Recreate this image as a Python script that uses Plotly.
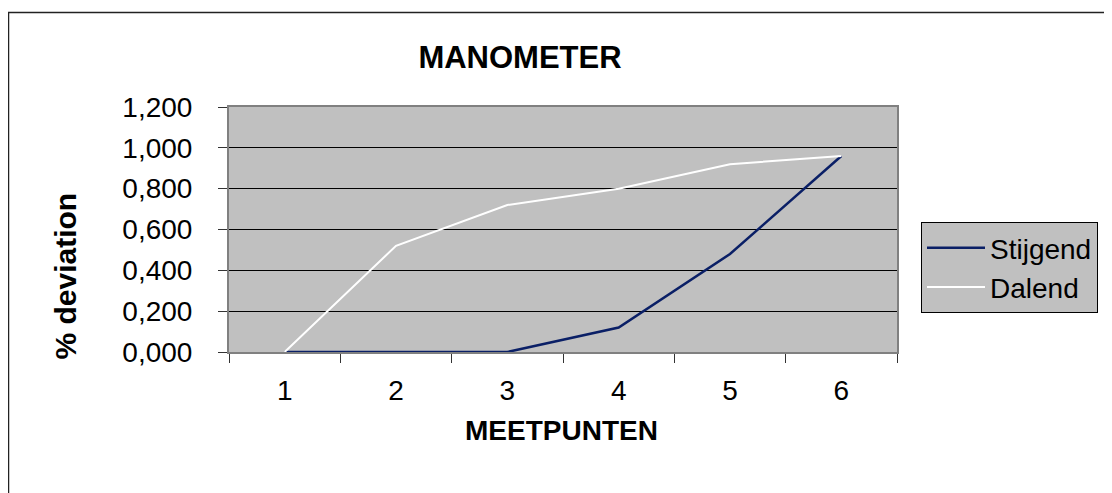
import plotly.graph_objects as go

categories = ["1", "2", "3", "4", "5", "6"]
stijgend = [0.0, 0.0, 0.0, 0.12, 0.48, 0.96]
dalend = [0.0, 0.52, 0.72, 0.80, 0.92, 0.96]
y_tickvals = [0.0, 0.2, 0.4, 0.6, 0.8, 1.0, 1.2]
y_ticktext = ["0,000", "0,200", "0,400", "0,600", "0,800", "1,000", "1,200"]

# the page body has an 8px margin; work in reference-pixel coordinates and shift
OFF = 8
W, H = 1112 - OFF, 493 - OFF
L, R, T, B = 229, 897, 107, 352
pw, ph = R - L, B - T


def px(x):
    return (x - L) / pw


def py(y):
    return (B - y) / ph


FONT = "Liberation Sans, Arial, sans-serif"

fig = go.Figure()
fig.add_trace(go.Scatter(x=categories, y=stijgend, mode="lines", name="Stijgend",
                         line=dict(color="#0a1f66", width=2.5)))
fig.add_trace(go.Scatter(x=categories, y=dalend, mode="lines", name="Dalend",
                         line=dict(color="#ffffff", width=2)))

fig.update_layout(
    width=W, height=H,
    margin=dict(l=L - OFF, r=1112 - R, t=T - OFF, b=493 - B, autoexpand=False),
    paper_bgcolor="white",
    plot_bgcolor="#c0c0c0",
    font=dict(family=FONT, color="black", size=28),
    title=dict(text="<b>MANOMETER</b>", font=dict(size=31, family=FONT, color="black"),
               x=(520 - OFF) / W, xref="container", xanchor="center",
               y=1 - (57 - OFF) / H, yref="container", yanchor="middle"),
    showlegend=True,
    legend=dict(x=px(921), y=py(222), xanchor="left", yanchor="top",
                bgcolor="#c0c0c0", bordercolor="black", borderwidth=1,
                font=dict(size=28, family=FONT, color="black"),
                itemwidth=58, tracegroupgap=0),
    xaxis=dict(type="category", range=[-0.5, 5.5], tickson="boundaries",
               ticks="outside", ticklen=9, tickcolor="#333333", tickwidth=1,
               showgrid=False, showline=True, linecolor="#808080", linewidth=2,
               mirror=True, ticklabelstandoff=12, tickfont=dict(size=28),
               fixedrange=True),
    yaxis=dict(range=[0, 1.2], tickvals=y_tickvals, ticktext=y_ticktext,
               ticks="outside", ticklen=9, tickcolor="#333333", tickwidth=1,
               showgrid=True, gridcolor="black", gridwidth=1, zeroline=False,
               showline=True, linecolor="#808080", linewidth=2, mirror=True,
               ticklabelstandoff=20, tickfont=dict(size=28), fixedrange=True),
    annotations=[
        dict(text="<b>MEETPUNTEN</b>", xref="paper", yref="paper",
             x=px(561.5), y=py(431), xanchor="center", yanchor="middle",
             showarrow=False, font=dict(size=28, family=FONT, color="black")),
        dict(text="<b>% deviation</b>", xref="paper", yref="paper",
             x=px(64.5), y=py(276), xanchor="center", yanchor="middle",
             textangle=-90, showarrow=False,
             font=dict(size=30, family=FONT, color="black")),
    ],
    shapes=[
        dict(type="rect", xref="paper", yref="paper",
             x0=px(8.5), x1=px(1300), y0=py(700), y1=py(12.5),
             line=dict(color="#222222", width=1.5), fillcolor="rgba(0,0,0,0)",
             layer="below"),
    ],
)

fig.write_html("out.html")
